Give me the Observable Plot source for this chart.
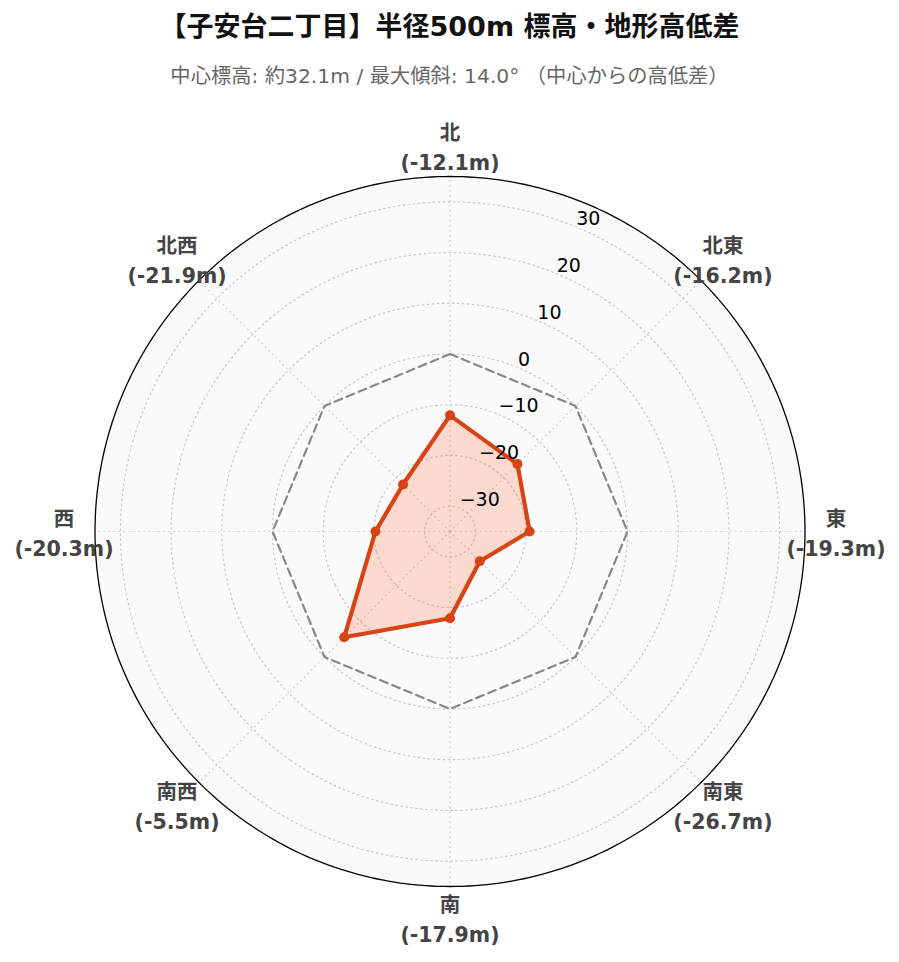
<!DOCTYPE html>
<html lang="ja">
<head>
<meta charset="utf-8">
<script src="https://cdn.jsdelivr.net/npm/d3@7"></script>
<script src="https://cdn.jsdelivr.net/npm/@observablehq/plot@0.6"></script>
<style>
  html, body { margin: 0; padding: 0; background: #fff; }
  #wrap { width: 899px; }
  .title { font-family: "DejaVu Sans", "Noto Sans CJK JP", sans-serif; font-weight: bold; font-size: 27px; color: #111; text-align: center; height: 54px; line-height: 54px; }
  .subtitle { font-family: "DejaVu Sans", "Noto Sans CJK JP", sans-serif; font-size: 20.3px; color: #666; text-align: center; height: 46px; line-height: 44px; }
  svg { display: block; }
</style>
</head>
<body>
<div id="wrap">
  <div class="title">【子安台二丁目】半径500m 標高・地形高低差</div>
  <div class="subtitle">中心標高: 約32.1m / 最大傾斜: 14.0° （中心からの高低差）</div>
  <div id="chart"></div>
</div>
<script>
// Data
const directions = ["北", "北東", "東", "南東", "南", "南西", "西", "北西"];
const values = [-12.1, -16.2, -19.3, -26.7, -17.9, -5.5, -20.3, -21.9];
const radialTicks = [-30, -20, -10, 0, 10, 20, 30];
const radialDomain = [-35, 35];
const referenceLevel = 0;

// polar helpers (longitude = direction angle, latitude = 90 - radial distance)
const span = radialDomain[1] - radialDomain[0];
const lon = i => 180 - i * 45;
const lat = v => 90 - (v - radialDomain[0]);
const points = directions.map((d, i) => ({dir: d, i, value: values[i]}));
const fmt = t => (t < 0 ? "\u2212" + Math.abs(t) : String(t));
const labelDeg = span * 386 / 355;

const circle = r => d3.geoCircle().center([0, 90]).radius(r).precision(1)();

const chart = Plot.plot({
  width: 899,
  height: 862,
  marginTop: 76,
  marginBottom: 76,
  marginLeft: 94.5,
  marginRight: 94.5,
  projection: {
    type: "azimuthal-equidistant",
    rotate: [0, -90],
    domain: circle(span),
    clip: false
  },
  style: {fontFamily: "'DejaVu Sans', 'Noto Sans CJK JP', sans-serif", background: "transparent"},
  marks: [
    Plot.geo([span], {geometry: r => circle(r), fill: "#fafafa", stroke: "none"}),
    Plot.geo(radialTicks, {geometry: t => circle(t - radialDomain[0]), fill: "none", stroke: "#c8c8c8", strokeWidth: 1.2, strokeDasharray: "1.5,3.5"}),
    Plot.link(points, {x1: d => lon(d.i), y1: 90, x2: d => lon(d.i), y2: 90 - span, stroke: "#c8c8c8", strokeWidth: 1.2, strokeDasharray: "1.5,3.5"}),
    Plot.line(points, {x: d => lon(d.i), y: () => lat(referenceLevel), curve: "linear-closed", stroke: "#888", strokeWidth: 2.2, strokeDasharray: "8,5"}),
    Plot.area(points, {x1: d => lon(d.i), y1: d => lat(d.value), x2: 0, y2: 90, curve: "linear-closed", fill: "rgb(255,87,34)", fillOpacity: 0.2}),
    Plot.line(points, {x: d => lon(d.i), y: d => lat(d.value), curve: "linear-closed", stroke: "#d84315", strokeWidth: 4.2, strokeLinejoin: "round"}),
    Plot.dot(points, {x: d => lon(d.i), y: d => lat(d.value), r: 5, fill: "#d84315", stroke: "none"}),
    Plot.geo([span], {geometry: r => circle(r), fill: "none", stroke: "#000", strokeWidth: 1.3}),
    Plot.text(radialTicks, {x: 180 - 22.5, y: t => lat(t), text: fmt, textAnchor: "start", dy: -8, fontSize: 19, fill: "#000"}),
    Plot.text(points, {x: d => lon(d.i), y: 90 - labelDeg, text: d => `${d.dir}\n(${d.value}m)`, lineHeight: 1.46, fontSize: 20.5, fontWeight: "bold", fill: "#444", textAnchor: "middle"})
  ]
});
document.getElementById("chart").append(chart);
</script>
</body>
</html>
